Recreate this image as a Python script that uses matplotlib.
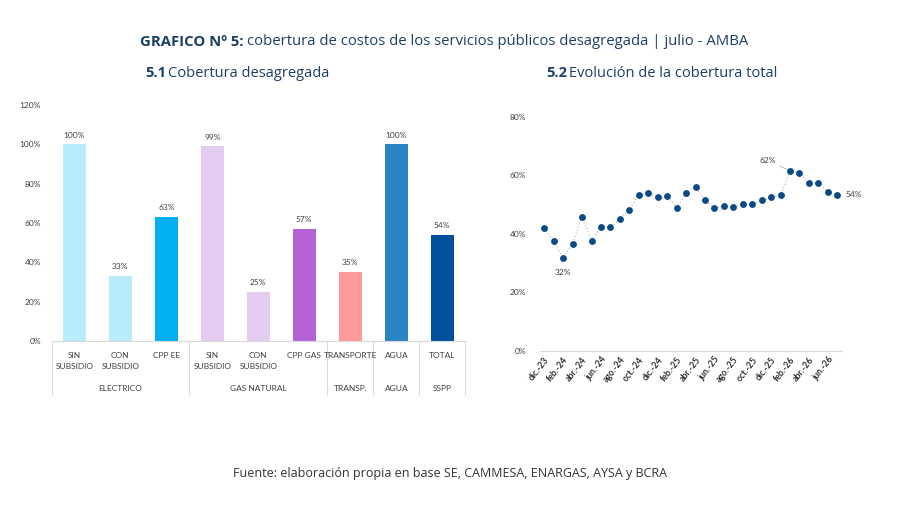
import matplotlib
matplotlib.use("Agg")
import matplotlib.pyplot as plt
import matplotlib.transforms as mtransforms
from matplotlib.ticker import PercentFormatter

# ---------------- data ----------------
bar_labels = ["SIN\nSUBSIDIO", "CON\nSUBSIDIO", "CPP EE", "SIN\nSUBSIDIO", "CON\nSUBSIDIO",
              "CPP GAS", "TRANSPORTE", "AGUA", "TOTAL"]
bar_values = [100, 33, 63, 99, 25, 57, 35, 100, 54]
bar_colors = ["#b9ecfa", "#b9ecfa", "#00b0f0", "#e4ccf1", "#e4ccf1", "#b562d6",
              "#ff9a9a", "#2a84c6", "#03519b"]
groups = ["ELECTRICO", "GAS NATURAL", "TRANSP.", "AGUA", "SSPP"]
group_sizes = [3, 3, 1, 1, 1]
bar_yticks = [0, 20, 40, 60, 80, 100, 120]

months = ["dic.-23", "ene.-24", "feb.-24", "mar.-24", "abr.-24", "may.-24", "jun.-24", "jul.-24",
          "ago.-24", "sep.-24", "oct.-24", "nov.-24", "dic.-24", "ene.-25", "feb.-25", "mar.-25",
          "abr.-25", "may.-25", "jun.-25", "jul.-25", "ago.-25", "sep.-25", "oct.-25", "nov.-25",
          "dic.-25", "ene.-26", "feb.-26", "mar.-26", "abr.-26", "may.-26", "jun.-26", "jul.-26"]
coverage = [42.0, 37.4, 31.7, 36.6, 45.8, 37.7, 42.4, 42.4, 45.1, 48.2, 53.4, 53.8, 52.5, 52.8,
            48.9, 53.8, 55.9, 51.4, 48.9, 49.4, 49.1, 50.3, 50.3, 51.4, 52.5, 53.1, 61.4, 60.8,
            57.4, 57.2, 54.4, 53.4]
line_yticks = [0, 20, 40, 60, 80]
annotated = {2: "32%", 26: "62%", 31: "54%"}

# ---------------- figure ----------------
FONT = ["Lato", "DejaVu Sans"]
TFONT = ["Open Sans", "DejaVu Sans"]
plt.rcParams["font.family"] = FONT
fig = plt.figure(figsize=(9, 5.05), dpi=100)
fig.patch.set_facecolor("white")

navy = "#1d3f66"
t1 = fig.text(0.155, 0.917, "GRAFICO Nº 5:", fontsize=10.7, fontweight="bold",
              color=navy, va="center", family=TFONT)
fig.canvas.draw()
bb = t1.get_window_extent()
fig.text(bb.x1 / fig.bbox.width + 0.004, 0.917,
         "cobertura de costos de los servicios públicos desagregada | julio - AMBA",
         fontsize=10.7, color=navy, va="center", family=TFONT)

s1 = fig.text(0.161, 0.855, "5.1", fontsize=10.5, fontweight="bold", color=navy,
              va="center", family=TFONT)
fig.canvas.draw()
bb = s1.get_window_extent()
fig.text(bb.x1 / fig.bbox.width + 0.002, 0.855, "Cobertura desagregada", fontsize=10.5,
         color=navy, va="center", family=TFONT)
s2 = fig.text(0.607, 0.855, "5.2", fontsize=10.5, fontweight="bold", color=navy,
              va="center", family=TFONT)
fig.canvas.draw()
bb = s2.get_window_extent()
fig.text(bb.x1 / fig.bbox.width + 0.002, 0.855, "Evolución de la cobertura total", fontsize=10.5,
         color=navy, va="center", family=TFONT)

fig.text(0.5, 0.063, "Fuente: elaboración propia en base SE, CAMMESA, ENARGAS, AYSA y BCRA",
         ha="center", va="center", fontsize=9, color="#333333", family=TFONT)

tick_col = "#404040"

# ---------------- left: bars ----------------
ax1 = fig.add_axes([0.058, 0.3248, 0.459, 0.467])
x = list(range(len(bar_values)))
ax1.bar(x, bar_values, width=0.5, color=bar_colors)
for xi, v in zip(x, bar_values):
    ax1.text(xi, v + 3, f"{v}%", ha="center", va="bottom", fontsize=6, color=tick_col)
ax1.set_ylim(0, 120)
ax1.set_xlim(-0.48, 8.5)
ax1.set_yticks(bar_yticks)
ax1.yaxis.set_major_formatter(PercentFormatter(decimals=0))
ax1.tick_params(axis="y", length=0, labelsize=6, labelcolor=tick_col, pad=8)
ax1.set_xticks([])
for sp in ["top", "right", "left"]:
    ax1.spines[sp].set_visible(False)
ax1.spines["bottom"].set_color("#d9d9d9")
ax1.spines["bottom"].set_linewidth(0.8)

trans = mtransforms.blended_transform_factory(ax1.transData, ax1.transAxes)
for xi, lab in zip(x, bar_labels):
    ax1.text(xi, -0.045, lab, transform=trans, ha="center", va="top", fontsize=6,
             color=tick_col, linespacing=1.8)
start = 0
bounds = [-0.48]
for g, n in zip(groups, group_sizes):
    center = start + (n - 1) / 2
    ax1.text(center, -0.2, g, transform=trans, ha="center", va="center", fontsize=6,
             color=tick_col)
    start += n
    bounds.append(start - 0.5)
bounds[-1] = 8.5
for b in bounds:
    ax1.plot([b, b], [0, -0.23], transform=trans, color="#d9d9d9", lw=0.7, clip_on=False)

# ---------------- right: line ----------------
ax2 = fig.add_axes([0.6, 0.305, 0.3356, 0.464])
xi2 = list(range(len(coverage)))
ax2.plot(xi2, [c / 100 for c in coverage], color="#a9b3bd", lw=0.8, ls=(0, (1, 2)))
ax2.plot(xi2, [c / 100 for c in coverage], ls="none", marker="o", ms=3.9, color="#0b4a85")
ax2.set_ylim(0, 0.8)
ax2.set_xlim(-0.45, 31.5)
ax2.set_yticks([t / 100 for t in line_yticks])
ax2.yaxis.set_major_formatter(PercentFormatter(xmax=1, decimals=0))
ax2.tick_params(axis="y", length=0, labelsize=6, labelcolor=tick_col, pad=10)
ax2.set_xticks(xi2[::2])
ax2.set_xticklabels(months[::2], rotation=52, ha="right", rotation_mode="anchor",
                    fontsize=6.3, color="#303030", fontweight="bold")
ax2.tick_params(axis="x", length=0, pad=3)
for sp in ["top", "right", "left"]:
    ax2.spines[sp].set_visible(False)
ax2.spines["bottom"].set_color("#d9d9d9")
ax2.spines["bottom"].set_linewidth(0.8)

for i, lab in annotated.items():
    y = coverage[i] / 100
    if i == 2:
        ax2.annotate(lab, (i, y), xytext=(0, -10), textcoords="offset points",
                     ha="center", va="center", fontsize=6, color=tick_col)
    elif i == 26:
        ax2.annotate(lab, (i, y), xytext=(-10, 8), textcoords="offset points",
                     ha="right", va="center", fontsize=6, color=tick_col,
                     arrowprops=dict(arrowstyle="-", color="#aaaaaa", lw=0.6,
                                     shrinkA=1, shrinkB=3))
    else:
        ax2.annotate(lab, (i, y), xytext=(6, 0), textcoords="offset points",
                     ha="left", va="center", fontsize=6, color=tick_col)

fig.savefig("out.png", dpi=100, facecolor="white")
